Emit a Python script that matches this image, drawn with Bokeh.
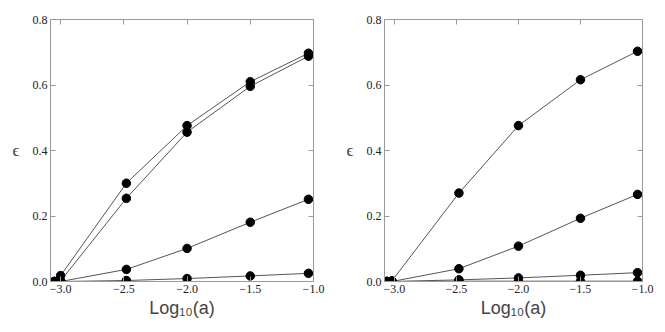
from bokeh.plotting import figure
from bokeh.layouts import row
from bokeh.models import LinearAxis, FixedTicker, Range1d, CustomLabelingPolicy
from bokeh.embed import file_html
from bokeh.resources import INLINE

# ---- data ----
x_left = [-3.05, -3.0, -2.48, -2.0, -1.5, -1.04]
left_s1 = [0.0, 0.018, 0.300, 0.476, 0.610, 0.697]
left_s2 = [0.0, 0.002, 0.254, 0.456, 0.596, 0.688]
left_s3 = [0.0, 0.0, 0.037, 0.101, 0.181, 0.251]
left_s4 = [0.0, 0.0, 0.003, 0.009, 0.017, 0.025]

x_right = [-3.06, -3.02, -2.48, -2.0, -1.5, -1.04]
right_s1 = [0.0, 0.002, 0.270, 0.476, 0.616, 0.703]
right_s2 = [0.0, 0.0, 0.039, 0.108, 0.193, 0.266]
right_s3 = [0.0, 0.0, 0.005, 0.011, 0.019, 0.027]
right_s4 = [0.0, 0.0, 0.001, 0.001, 0.001, 0.001]

x_ticks = [-3.0, -2.5, -2.0, -1.5, -1.0]
x_tick_labels = ["\u22123.0", "\u22122.5", "\u22122.0", "\u22121.5", "\u22121.0"]
y_ticks = [0.0, 0.2, 0.4, 0.6, 0.8]
y_tick_labels = ["0.0", "0.2", "0.4", "0.6", "0.8"]

FRAME = "#9a9a9a"
LINE = "#555555"
TICKFONT = "Liberation Serif"

NO_LABELS = "for (const i of indices) { indices.unset(i) }\nreturn indices"


def style_axis(ax, ticks, labels, minor, show_labels):
    ax.ticker = FixedTicker(ticks=ticks, num_minor_ticks=minor)
    ax.axis_line_color = FRAME
    ax.major_tick_line_color = FRAME
    ax.minor_tick_line_color = FRAME
    ax.major_tick_in = 5
    ax.major_tick_out = 0
    ax.minor_tick_in = 3
    ax.minor_tick_out = 0
    if show_labels:
        ax.major_label_overrides = {t: l for t, l in zip(ticks, labels)}
        ax.major_label_text_font = TICKFONT
        ax.major_label_text_font_size = "12px"
        ax.major_label_text_color = "#222222"
        ax.major_label_standoff = 3
    else:
        ax.major_label_policy = CustomLabelingPolicy(code=NO_LABELS)
        ax.major_label_standoff = 0


def make_panel(xs, series, width, bl, br):
    p = figure(width=width, height=324, output_backend="svg", toolbar_location=None,
               x_range=Range1d(-3.08, -1.0), y_range=Range1d(0.0, 0.8),
               min_border_left=bl, min_border_right=br, min_border_top=19,
               min_border_bottom=43)
    p.xgrid.visible = False
    p.ygrid.visible = False
    p.outline_line_color = FRAME
    style_axis(p.xaxis[0], x_ticks, x_tick_labels, 5, True)
    style_axis(p.yaxis[0], y_ticks, y_tick_labels, 4, True)
    p.xaxis[0].axis_label = "Log\u2081\u2080(a)"
    p.xaxis[0].axis_label_text_font = "Liberation Sans"
    p.xaxis[0].axis_label_text_font_style = "normal"
    p.xaxis[0].axis_label_text_font_size = "18px"
    p.xaxis[0].axis_label_standoff = 2
    p.yaxis[0].axis_label = "\u03f5"
    p.yaxis[0].axis_label_text_font = "Liberation Serif"
    p.yaxis[0].axis_label_text_font_style = "normal"
    p.yaxis[0].axis_label_text_font_size = "17px"
    p.yaxis[0].axis_label_orientation = "horizontal"
    p.yaxis[0].axis_label_standoff = 10
    top = LinearAxis()
    style_axis(top, x_ticks, x_tick_labels, 5, False)
    p.add_layout(top, "above")
    right = LinearAxis()
    style_axis(right, y_ticks, y_tick_labels, 4, False)
    p.add_layout(right, "right")
    for ys in series:
        p.line(xs, ys, line_color=LINE, line_width=1)
    for ys in series:
        p.scatter(xs, ys, size=8.5, fill_color="black", line_color="black")
    return p


p1 = make_panel(x_left, [left_s1, left_s2, left_s3, left_s4], 332, 50, 19)
p2 = make_panel(x_right, [right_s1, right_s2, right_s3, right_s4], 333, 52, 23)
layout = row(p1, p2)
open("out.html", "w").write(file_html(layout, INLINE))
